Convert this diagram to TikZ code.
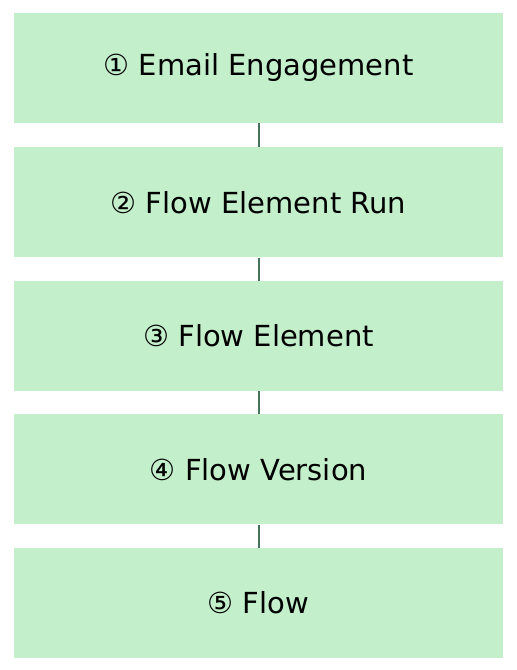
\documentclass[tikz,border=0pt]{standalone}
\usepackage{fontspec}
\setmainfont{DejaVu Sans}
\definecolor{boxfill}{HTML}{C3F0CA}
\definecolor{linkcol}{HTML}{44735B}
\begin{document}
\begin{tikzpicture}[x=1pt,y=1pt,
  stagebox/.style={fill=boxfill,draw=none,minimum width=489pt,minimum height=110pt,inner sep=0pt,font=\fontsize{29}{34}\selectfont,text=black},
  link/.style={draw=linkcol,line width=2pt}]
\useasboundingbox (0,0) rectangle (517,670);
\fill[white] (0,0) rectangle (517,670);
\node[stagebox] (s1) at (258.5,602) {① Email Engagement};
\node[stagebox] (s2) at (258.5,467.5) {② Flow Element Run};
\node[stagebox] (s3) at (258.5,334) {③ Flow Element};
\node[stagebox] (s4) at (258.5,200.5) {④ Flow Version};
\node[stagebox] (s5) at (258.5,67) {⑤ Flow};
\draw[link] (s1.south) -- (s2.north);
\draw[link] (s2.south) -- (s3.north);
\draw[link] (s3.south) -- (s4.north);
\draw[link] (s4.south) -- (s5.north);
\end{tikzpicture}
\end{document}
